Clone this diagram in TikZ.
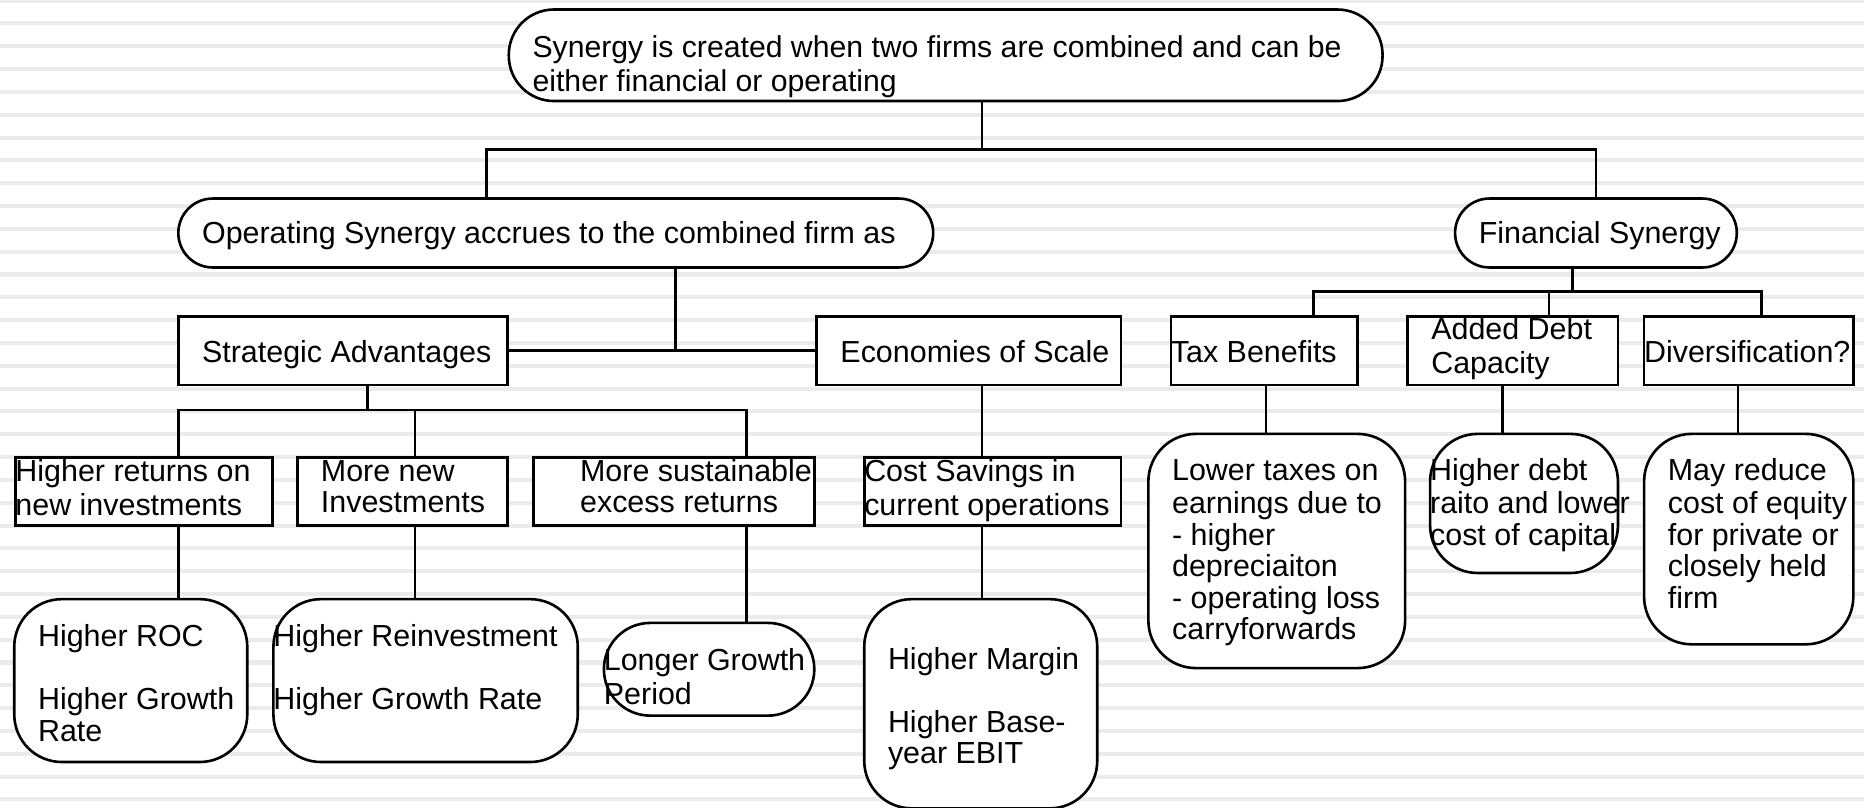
\documentclass[tikz,border=0pt]{standalone}
\usepackage{fontspec}
\setmainfont{Liberation Sans}
\tikzset{
  base/.style={draw=black, line width=1.1pt, fill=white, inner sep=0pt, outer sep=0pt},
  sq/.style={base, rectangle},
  rbox/.style={base, rectangle, rounded corners=20pt},
  pill/.style={base, rectangle, rounded corners=#1},
  txt/.style={anchor=north west, inner sep=0pt, outer sep=0pt, align=left, font=\fontsize{12.8}{13.25}\selectfont},
  toptxt/.style={txt, font=\fontsize{12.7}{12.5}\selectfont},
  stripe/.style={draw=black!8, line width=1.7pt},
  wire/.style={draw=black, line width=1.1pt}
}
\newcommand\shapebox[6]{\node[#1, minimum width={(#5-#3)*0.5pt}, minimum height={(#6-#4)*0.5pt}] (#2) at ({(#3+#5)/2},{(#4+#6)/2}) {};}
\newcommand\tx[4]{\node[txt] (#1) at (#2,{#3-9.7}) {\strut #4};}
\begin{document}
\begin{tikzpicture}[x=0.5pt, y=-0.5pt]
\fill[white] (0,0) rectangle (1568,679);
\useasboundingbox (0,0) rectangle (1568,679);
\foreach \k in {0,...,35} \draw[stripe] (0,{0.5+19.2*\k}) -- (1568,{0.5+19.2*\k});

% shapes
\shapebox{pill=19pt}{top}{428}{8}{1163}{85}
\shapebox{pill=14.5pt}{op}{150}{167}{785}{225}
\shapebox{pill=14.5pt}{fin}{1224}{167}{1461}{225}
\shapebox{sq}{strat}{150}{266}{427}{324}
\shapebox{sq}{econ}{687}{266}{943}{324}
\shapebox{sq}{tax}{985}{266}{1142}{324}
\shapebox{sq}{debt}{1184}{266}{1361}{324}
\shapebox{sq}{div}{1383}{266}{1559}{324}
\shapebox{sq}{ret}{13}{385}{229}{442}
\shapebox{sq}{newinv}{250}{385}{427}{442}
\shapebox{sq}{sust}{449}{385}{685}{442}
\shapebox{sq}{cost}{727}{385}{943}{442}
\shapebox{rbox}{roc}{12}{504}{208}{641}
\shapebox{rbox}{reinv}{230}{504}{486}{641}
\shapebox{pill=19.5pt}{longer}{508}{524}{685}{602}
\shapebox{rbox}{margin}{727}{504}{923}{680}
\shapebox{rbox}{lowtax}{966}{365}{1182}{562}
\shapebox{rbox}{hdebt}{1203}{365}{1361}{482}
\shapebox{rbox}{reduce}{1383}{365}{1559}{542}

% connectors
\draw[wire] (826,0 |- top.south) -- (826,126);
\draw[wire] (409,0 |- op.north) |- (fin.north |- 0,126) -- (fin.north);
\draw[wire] (568,0 |- op.south) -- (568,0 |- strat.east);
\draw[wire] (strat.east) -- (econ.west);
\draw[wire] (1323,0 |- fin.south) -- (1323,245);
\draw[wire] (1105,0 |- tax.north) |- (1482,245) -- (1482,0 |- div.north);
\draw[wire] (1303,245) -- (1303,0 |- debt.north);
\draw[wire] (309,0 |- strat.south) -- (309,345);
\draw[wire] (150,0 |- ret.north) |- (628,345) -- (628,0 |- sust.north);
\draw[wire] (349,345) -- (349,0 |- newinv.north);
\draw[wire] (826,0 |- econ.south) -- (826,0 |- cost.north);
\draw[wire] (150,0 |- ret.south) -- (150,0 |- roc.north);
\draw[wire] (349,0 |- newinv.south) -- (349,0 |- reinv.north);
\draw[wire] (628,0 |- sust.south) -- (628,0 |- longer.north);
\draw[wire] (826,0 |- cost.south) -- (826,0 |- margin.north);
\draw[wire] (1065,0 |- tax.south) -- (1065,0 |- lowtax.north);
\draw[wire] (1264,0 |- debt.south) -- (1264,0 |- hdebt.north);
\draw[wire] (1462,0 |- div.south) -- (1462,0 |- reduce.north);

% texts
\node[toptxt] (topt) at (448,{40-9.7}) {\strut Synergy is created when two firms are combined and can be\\either financial or operating};
\tx{opt}{170}{196}{Operating Synergy accrues to the combined firm as}
\tx{fint}{1244}{196}{Financial Synergy}
\tx{stratt}{170}{296}{Strategic Advantages}
\tx{econt}{707}{296}{Economies of Scale}
\tx{taxt}{985}{296}{Tax Benefits}
\tx{debtt}{1204}{277}{Added Debt\\Capacity}
\tx{divt}{1383}{296}{Diversification?}
\tx{rett}{13}{396}{Higher returns on\\new investments}
\tx{newinvt}{270}{396}{More new\\Investments}
\tx{sustt}{488}{396}{More sustainable\\excess returns}
\tx{costt}{727}{396}{Cost Savings in\\current operations}
\tx{roct}{32}{535}{Higher ROC\\\mbox{}\\Higher Growth\\Rate}
\tx{reinvt}{230}{535}{Higher Reinvestment\\\mbox{}\\Higher Growth Rate}
\tx{longert}{508}{555}{Longer Growth\\Period}
\tx{margint}{747}{554}{Higher Margin\\\mbox{}\\Higher Base-\\year EBIT}
\tx{lowtaxt}{986}{395}{Lower taxes on\\earnings due to\\- higher\\depreciaiton\\- operating loss\\carryforwards}
\tx{hdebtt}{1203}{395}{Higher debt\\raito and lower\\cost of capital}
\tx{reducet}{1403}{395}{May reduce\\cost of equity\\for private or\\closely held\\firm}
\end{tikzpicture}
\end{document}
